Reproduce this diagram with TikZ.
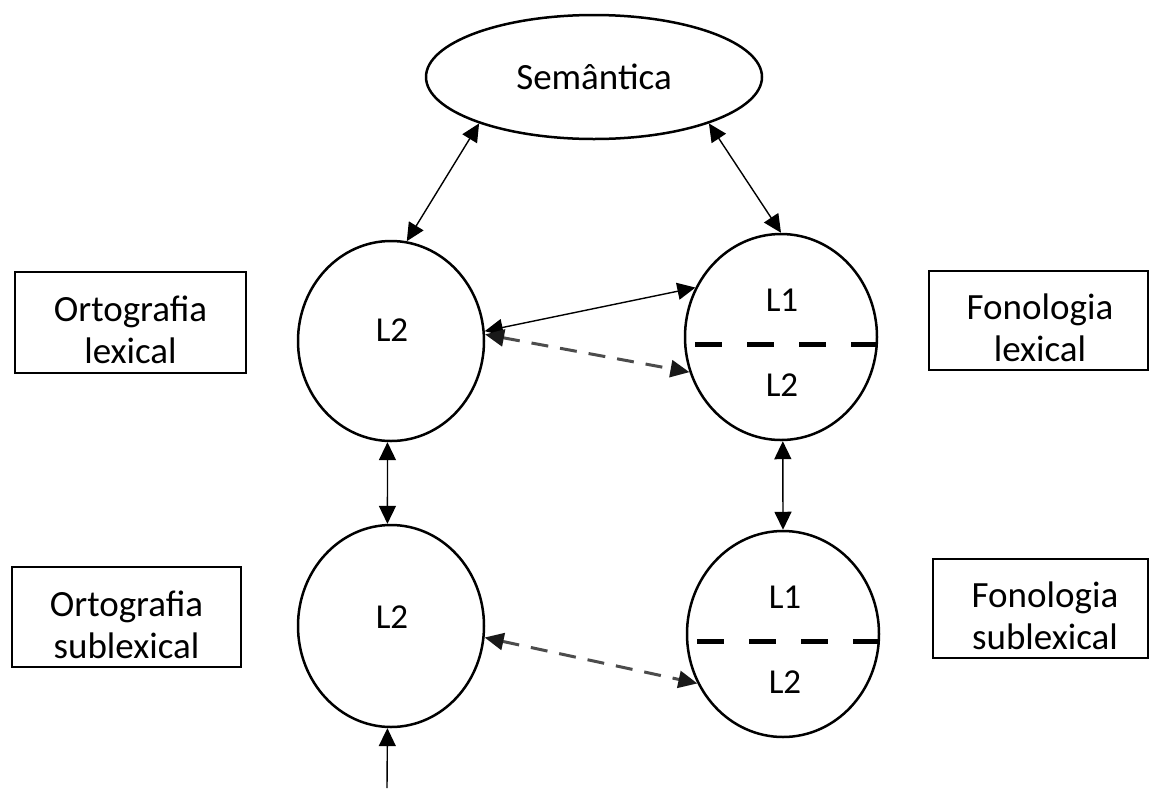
\documentclass[tikz,border=0pt]{standalone}
\usepackage{fontspec}
\setmainfont{Carlito}
\usetikzlibrary{shapes.geometric,arrows.meta}
\begin{document}
\begin{tikzpicture}[x=1pt,y=-1pt,
  oval/.style={draw,line width=2.5pt,ellipse,inner sep=0pt},
  labelbox/.style={draw,line width=2.5pt,rectangle,inner sep=0pt},
  boxtext/.style={align=center,inner sep=0pt,font=\fontsize{37}{42}\selectfont},
  ltext/.style={font=\fontsize{35}{40}\selectfont,inner sep=0pt},
  tip/.tip={Triangle[length=18pt,width=17pt]},
  link/.style={line width=1.4pt,tip-tip},
  dlink/.style={line width=3pt,draw=black!70,dash pattern=on 17pt off 12pt,
     {Triangle[length=19pt,width=17pt,color=black!90]}-{Triangle[length=19pt,width=17pt,color=black!90]}},
  divider/.style={line width=5pt,dash pattern=on 27pt off 25pt}
]
\useasboundingbox (0,0) rectangle (1152,788);

% Semantics
\node[oval,minimum width=336pt,minimum height=124pt,font=\fontsize{37}{42}\selectfont] (sem) at (594,77) {Semântica};

% circles
\node[oval,minimum width=186pt,minimum height=200pt] (lt) at (391,341) {};
\node[oval,minimum width=192pt,minimum height=206pt] (rt) at (781,337) {};
\node[oval,minimum width=186pt,minimum height=202pt] (lb) at (391,626) {};
\node[oval,minimum width=192pt,minimum height=206pt] (rb) at (783,634) {};

\node[ltext] (ltl2) at (392,330) {L2};
\node[ltext] (rtl1) at (782,300) {L1};
\node[ltext] (rtl2) at (782,385) {L2};
\node[ltext] (lbl2) at (392,617) {L2};
\node[ltext] (rbl1) at (785,597) {L1};
\node[ltext] (rbl2) at (785,682) {L2};

\draw[divider] (rt.center) ++(-86,7) -- ++(182,0);
\draw[divider] (rb.center) ++(-86,7) -- ++(182,0);

% boxes
\node[labelbox,minimum width=231pt,minimum height=101pt] (ol) at (130.5,322.5) {};
\node[labelbox,minimum width=219pt,minimum height=99pt] (fl) at (1038.5,320.5) {};
\node[labelbox,minimum width=229pt,minimum height=100pt] (os) at (126.5,617) {};
\node[labelbox,minimum width=215pt,minimum height=99pt] (fs) at (1040.5,608.5) {};
\node[boxtext] (olt) at (130.5,330) {Ortografia\\lexical};
\node[boxtext] (flt) at (1040,327.5) {Fonologia\\lexical};
\node[boxtext] (ost) at (126.5,625) {Ortografia\\sublexical};
\node[boxtext] (fst) at (1045,615.5) {Fonologia\\sublexical};

% connectors
\draw[link] (sem.202) -- (lt.81);
\draw[link] (sem.-22.5) -- (rt.90);
\draw[link] (lt.6.5) -- (rt.150);
\draw[dlink] (lt.4) -- (rt.201);
\draw[link] (lt.-92) -- (lb.92);
\draw[link] (rt.-89) -- (rb.90);
\draw[dlink] (lb.-7) -- (rb.210);
\coordinate (inp) at (387,788);
\draw[line width=1.4pt,-tip] (inp) -- (lb.-92);
\end{tikzpicture}
\end{document}
